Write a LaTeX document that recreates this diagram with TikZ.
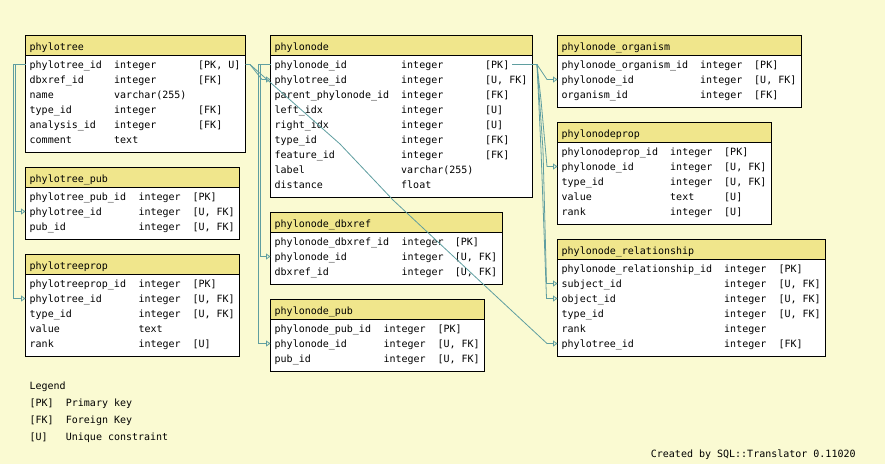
\documentclass[tikz,border=0pt]{standalone}
\usepackage{fontspec}
\usetikzlibrary{arrows.meta}
\newfontfamily\erfont{DejaVu Sans Mono}
\definecolor{bgc}{HTML}{FAFAD2}
\definecolor{hdrc}{HTML}{F0E68C}
\definecolor{cadet}{HTML}{5F9EA0}
\tikzset{
  hdrbox/.style={draw=black, fill=hdrc, line width=1pt},
  bodybox/.style={draw=black, fill=white, line width=1pt},
  cell/.style={anchor=base west, inner sep=0pt, font=\erfont\fontsize{10}{12}\selectfont},
  ttl/.style={cell},
  conn/.style={draw=cadet, line width=0.8pt, -{Triangle[open,length=4.5pt,width=6pt]}},
}
\newcommand\ertable[9]{%
  \path[bodybox] (#2,{#3+20}) rectangle (#4,{#3+27+15*#8});
  \path[hdrbox] (#2,#3) rectangle (#4,{#3+20});
  \node[ttl] (#1-t) at ({#2+4},{#3+15.4}) {#5};
  \foreach \fa/\fb/\fc [count=\i] in {#9} {
    \node[cell] (#1-\i a) at ({#2+4},{#3+33+15*(\i-1)}) {\fa};
    \node[cell] (#1-\i b) at (#6,{#3+33+15*(\i-1)}) {\fb};
    \node[cell] (#1-\i c) at (#7,{#3+33+15*(\i-1)}) {\fc};
    \coordinate (#1-\i W) at (#2,{#3+29+15*(\i-1)});
    \coordinate (#1-\i E) at (#4,{#3+29+15*(\i-1)});
  }%
}
\begin{document}
\begin{tikzpicture}[x=1pt,y=-1pt]
\useasboundingbox (0,0) rectangle (885,464);
\fill[bgc] (0,0) rectangle (885,464);

\ertable{pt}{25.5}{35.5}{245.5}{phylotree}{114}{198}{6}{%
  phylotree\_id/integer/{[PK, U]},
  dbxref\_id/integer/{[FK]},
  name/varchar(255)/{},
  type\_id/integer/{[FK]},
  analysis\_id/integer/{[FK]},
  comment/text/{}}
\ertable{ptp}{25.5}{167.5}{239.5}{phylotree\_pub}{138.3}{192.3}{3}{%
  phylotree\_pub\_id/integer/{[PK]},
  phylotree\_id/integer/{[U, FK]},
  pub\_id/integer/{[U, FK]}}
\ertable{ptpr}{25.5}{254.5}{239.5}{phylotreeprop}{138.3}{192.3}{5}{%
  phylotreeprop\_id/integer/{[PK]},
  phylotree\_id/integer/{[U, FK]},
  type\_id/integer/{[U, FK]},
  value/text/{},
  rank/integer/{[U]}}
\ertable{pn}{270.5}{35.5}{532.5}{phylonode}{401}{485}{9}{%
  phylonode\_id/integer/{[PK]},
  phylotree\_id/integer/{[U, FK]},
  parent\_phylonode\_id/integer/{[FK]},
  left\_idx/integer/{[U]},
  right\_idx/integer/{[U]},
  type\_id/integer/{[FK]},
  feature\_id/integer/{[FK]},
  label/varchar(255)/{},
  distance/float/{}}
\ertable{pnd}{270.5}{212.5}{502.5}{phylonode\_dbxref}{401.3}{454.7}{3}{%
  phylonode\_dbxref\_id/integer/{[PK]},
  phylonode\_id/integer/{[U, FK]},
  dbxref\_id/integer/{[U, FK]}}
\ertable{pnp}{270.5}{299.5}{484.5}{phylonode\_pub}{383.3}{437.3}{3}{%
  phylonode\_pub\_id/integer/{[PK]},
  phylonode\_id/integer/{[U, FK]},
  pub\_id/integer/{[U, FK]}}
\ertable{pno}{557.5}{35.5}{801.5}{phylonode\_organism}{700}{754}{3}{%
  phylonode\_organism\_id/integer/{[PK]},
  phylonode\_id/integer/{[U, FK]},
  organism\_id/integer/{[FK]}}
\ertable{pnpr}{557.5}{122.5}{771.5}{phylonodeprop}{670}{724}{5}{%
  phylonodeprop\_id/integer/{[PK]},
  phylonode\_id/integer/{[U, FK]},
  type\_id/integer/{[U, FK]},
  value/text/{[U]},
  rank/integer/{[U]}}
\ertable{pnr}{557.5}{239.5}{825.5}{phylonode\_relationship}{724}{778.3}{6}{%
  phylonode\_relationship\_id/integer/{[PK]},
  subject\_id/integer/{[U, FK]},
  object\_id/integer/{[U, FK]},
  type\_id/integer/{[U, FK]},
  rank/integer/{},
  phylotree\_id/integer/{[FK]}}

% connectors
\draw[conn] (pt-1W) -- ++(-12,0) |- (ptpr-2W);
\draw[conn] (pt-1W) -- ++(-10,0) |- (ptp-2W);
\draw[conn] (pt-1E) -- ++(4.5,0) -- (262,79.5) -- (pn-2W);
\draw[conn] (pt-1E) -- ++(4.5,0) -- (340,144) -- (393,200) -- (483,284) -- (547,343.5) -- (pnr-6W);
\draw[conn] (pn-1W) -- ++(-12,0) |- (pnp-2W);
\draw[conn] (pn-1W) -- ++(-10,0) |- (pnd-2W);
\coordinate (pnport) at ([xshift=3pt]pn-1c.east |- pn-1E);
\draw[conn] (pnport) -- (537,64.5) -- (547,79.5) -- (pno-2W);
\draw[conn] (pnport) -- (537,64.5) -- (541,100) -- (547,166.5) -- (pnpr-2W);
\draw[conn] (pnport) -- (537,64.5) -- (543,150) -- (546.5,283.5) -- (pnr-2W);
\draw[conn] (pnport) -- (537,64.5) -- (541,150) -- (546.5,298.5) -- (pnr-3W);

% legend
\node[cell] (lg) at (29.3,389.5) {Legend};
\node[cell] (lg1a) at (29.3,406.5) {[PK]};
\node[cell] (lg1b) at (65.7,406.5) {Primary key};
\node[cell] (lg2a) at (29.3,423.5) {[FK]};
\node[cell] (lg2b) at (65.7,423.5) {Foreign Key};
\node[cell] (lg3a) at (29.3,440.5) {[U]};
\node[cell] (lg3b) at (65.7,440.5) {Unique constraint};
\node[cell] (credit) at (650.7,457.5) {Created by SQL::Translator 0.11020};
\end{tikzpicture}
\end{document}
